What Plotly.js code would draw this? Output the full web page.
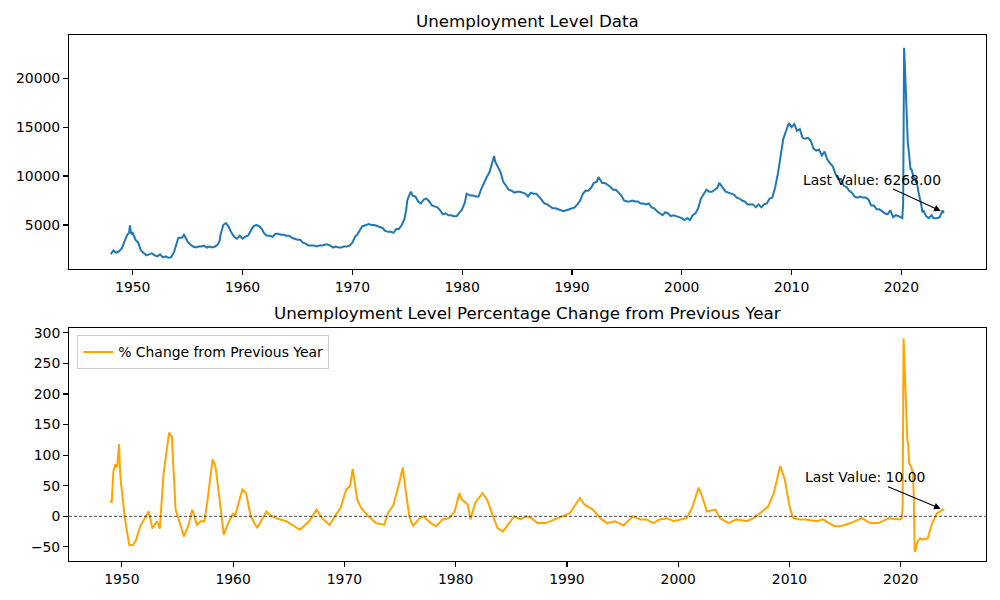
<!DOCTYPE html>
<html>
<head>
<meta charset="utf-8">
<script src="https://cdn.plot.ly/plotly-3.0.1.min.js"></script>
<style>html,body{margin:0;padding:0;background:#fff;}#chart{width:1000px;height:600px;}</style>
</head>
<body>
<div id="chart"></div>
<script>
// Unemployment level (thousands)
const levelDates = [
"1948-01","1948-04","1948-07","1948-10",
"1949-01","1949-04","1949-07","1949-09","1949-10","1949-11","1949-12",
"1950-01","1950-04","1950-07","1950-10",
"1951-01","1951-04","1951-07","1951-10",
"1952-01","1952-04","1952-07","1952-10",
"1953-01","1953-04","1953-07","1953-10","1953-12",
"1954-01","1954-03","1954-07","1954-09","1954-12",
"1955-01","1955-04","1955-07","1955-10",
"1956-01","1956-04","1956-07","1956-10",
"1957-01","1957-04","1957-07","1957-10","1957-12",
"1958-01","1958-04","1958-07","1958-10",
"1959-01","1959-04","1959-07","1959-10",
"1960-01","1960-04","1960-07","1960-10",
"1961-01","1961-04","1961-07","1961-10",
"1962-01","1962-04","1962-07","1962-10",
"1963-01","1963-04","1963-07","1963-10",
"1964-01","1964-04","1964-07","1964-10",
"1965-01","1965-04","1965-07","1965-10",
"1966-01","1966-04","1966-07","1966-10",
"1967-01","1967-04","1967-07","1967-10",
"1968-01","1968-04","1968-07","1968-10",
"1969-01","1969-04","1969-07","1969-10",
"1970-01","1970-04","1970-07","1970-10","1970-12",
"1971-01","1971-04","1971-07","1971-10",
"1972-01","1972-04","1972-07","1972-10",
"1973-01","1973-04","1973-07","1973-10",
"1974-01","1974-04","1974-07","1974-10","1974-12",
"1975-01","1975-04","1975-05","1975-07","1975-10",
"1976-01","1976-04","1976-07","1976-10",
"1977-01","1977-04","1977-07","1977-10",
"1978-01","1978-04","1978-07","1978-10",
"1979-01","1979-04","1979-07","1979-10",
"1980-01","1980-04","1980-06","1980-10",
"1981-01","1981-04","1981-07","1981-10",
"1982-01","1982-04","1982-07","1982-10","1982-12",
"1983-01","1983-04","1983-07","1983-10",
"1984-01","1984-04","1984-07","1984-10",
"1985-01","1985-04","1985-07","1985-10",
"1986-01","1986-04","1986-07","1986-10",
"1987-01","1987-04","1987-07","1987-10",
"1988-01","1988-04","1988-07","1988-10",
"1989-01","1989-04","1989-07","1989-10",
"1990-01","1990-04","1990-07","1990-10",
"1991-01","1991-04","1991-07","1991-10",
"1992-01","1992-04","1992-06","1992-10",
"1993-01","1993-04","1993-07","1993-10",
"1994-01","1994-04","1994-07","1994-10",
"1995-01","1995-04","1995-07","1995-10",
"1996-01","1996-04","1996-07","1996-10",
"1997-01","1997-04","1997-07","1997-10",
"1998-01","1998-04","1998-07","1998-10",
"1999-01","1999-04","1999-07","1999-10",
"2000-01","2000-04","2000-07","2000-10",
"2001-01","2001-04","2001-07","2001-10",
"2002-01","2002-04","2002-07","2002-10",
"2003-01","2003-04","2003-06","2003-10",
"2004-01","2004-04","2004-07","2004-10",
"2005-01","2005-04","2005-07","2005-10",
"2006-01","2006-04","2006-07","2006-10",
"2007-01","2007-04","2007-07","2007-10","2007-12",
"2008-01","2008-04","2008-07","2008-10",
"2009-01","2009-04","2009-07","2009-10",
"2010-01","2010-04","2010-07","2010-10",
"2011-01","2011-04","2011-07","2011-10",
"2012-01","2012-04","2012-07","2012-10",
"2013-01","2013-04","2013-07","2013-10",
"2014-01","2014-04","2014-07","2014-10",
"2015-01","2015-04","2015-07","2015-10",
"2016-01","2016-04","2016-07","2016-10",
"2017-01","2017-04","2017-07","2017-10",
"2018-01","2018-04","2018-07","2018-10",
"2019-01","2019-04","2019-07","2019-10",
"2020-01","2020-02","2020-03","2020-04","2020-05","2020-06","2020-07","2020-08","2020-09","2020-10","2020-11","2020-12",
"2021-01","2021-02","2021-03","2021-04","2021-05","2021-06","2021-07","2021-08","2021-09","2021-10","2021-11","2021-12",
"2022-01","2022-04","2022-07","2022-10","2022-12",
"2023-01","2023-04","2023-07","2023-10","2023-11","2023-12"
];
const levelValues = [
2034,2400,2170,2300,
2600,3300,4000,4200,4974,4200,4100,
4200,3500,3200,2400,
2150,1900,2000,2100,
1900,1800,2000,1700,
1800,1650,1700,2200,2800,
3100,3700,3700,4000,3500,
3300,3000,2800,2700,
2800,2800,2900,2700,
2800,2700,2800,3000,3400,
4000,5000,5200,4800,
4200,3800,3600,3900,
3600,3800,3900,4400,
4900,5000,4900,4600,
4100,3900,3900,3800,
4100,4100,4000,4000,
3900,3900,3700,3600,
3500,3500,3200,3100,
2900,2900,2900,2800,
2900,2900,3000,3000,
2900,2700,2800,2700,
2700,2800,2800,2900,
3200,3800,4100,4600,4900,
4900,5000,5100,5000,
5000,4900,4800,4700,
4400,4300,4300,4200,
4600,4600,5000,5600,6600,
7500,8200,8400,8000,7900,
7400,7200,7600,7700,
7400,7000,6900,6800,
6500,6100,6200,6000,
6000,5900,5900,6200,
6600,7300,8200,8000,
8000,7900,7900,8700,
9400,9900,10400,11300,12050,
11500,11000,10400,9400,
9000,8600,8500,8300,
8400,8400,8300,8200,
7900,8300,8200,8200,
7900,7600,7200,7100,
6900,6700,6700,6600,
6500,6400,6500,6600,
6700,6800,7100,7500,
8200,8500,8500,8800,
9300,9400,9900,9300,
9300,9100,8900,8600,
8600,8300,8000,7500,
7400,7400,7500,7400,
7400,7200,7200,7100,
7200,6800,6700,6400,
6200,6000,6300,6200,
5900,6000,5900,5800,
5700,5500,5700,5500,
6000,6200,6700,7700,
8200,8600,8400,8400,
8600,8800,9300,8800,
8400,8300,8200,8100,
7800,7700,7500,7400,
7100,7100,7100,6800,
7100,6800,7100,7200,7600,
7700,7800,8800,10200,
12000,13800,14600,15400,
15000,15300,14600,14800,
13900,13800,13900,13600,
12800,12600,12700,12100,
12500,11700,11300,11000,
10200,9700,9700,9000,
8900,8500,8300,7900,
7800,7900,7800,7800,
7600,7000,7000,6600,
6600,6400,6200,6100,
6500,5800,6000,5900,
5800,5700,7200,23100,20900,17700,16300,13500,12600,11100,10700,10700,
10200,10000,9700,9800,9300,9500,8700,8300,7700,7400,6900,6300,
6500,5900,5700,6000,5700,
5700,5700,5800,6500,6300,6268
];

// % change from previous year
const pctDates = [
"1949-01","1949-02","1949-04","1949-06","1949-08","1949-10","1949-11","1949-12",
"1950-02","1950-04","1950-09","1951-01","1951-04","1951-09","1952-01","1952-06","1952-10",
"1953-03","1953-06","1953-10","1954-04","1954-07","1954-11","1955-08",
"1956-01","1956-05","1956-10","1957-02","1957-06","1957-09","1958-03","1958-06","1958-10",
"1959-03","1959-07","1960-01","1960-03","1960-11","1961-03","1961-08","1962-03",
"1963-01","1963-04","1963-11","1964-10","1966-01","1966-11","1967-07","1968-01","1968-09",
"1969-04","1969-09","1970-03","1970-07","1970-10","1971-03","1971-07","1972-03","1972-11",
"1973-08","1973-12","1974-06","1975-01","1975-04","1975-07","1975-11",
"1976-03","1976-10","1977-02","1977-10","1978-04","1978-11","1979-06","1979-12",
"1980-05","1980-08","1981-02","1981-05","1981-10","1982-06","1982-11",
"1983-05","1983-10","1984-04","1984-11","1985-04","1985-11","1986-05","1986-11",
"1987-05","1988-02","1989-01","1989-08","1990-04","1990-09","1991-03","1991-08",
"1992-05","1993-01","1993-08","1994-05","1995-02","1995-12","1996-08","1997-03","1997-10",
"1998-05","1999-01","1999-08","2000-03","2000-10","2001-04","2001-11","2002-02","2002-08",
"2003-05","2003-10","2004-07","2005-04","2006-03","2006-10","2007-05","2008-02","2008-08",
"2009-03","2009-08","2010-01","2010-05","2010-12","2011-07","2012-06","2013-01","2014-01",
"2014-08","2015-07","2016-07","2017-04","2018-01","2018-12","2019-12",
"2020-02","2020-03","2020-04","2020-05","2020-06","2020-07","2020-08","2020-09","2020-10","2020-11","2020-12",
"2021-01","2021-02","2021-03","2021-04","2021-05","2021-06","2021-08","2021-10","2021-12",
"2022-03","2022-06","2022-11","2023-04","2023-08","2023-10","2023-12"
];
const pctValues = [
27,22,74,85,80,118,77,55,
30,0,-47,-47,-40,-16,-5,8,-20,
-8,-20,69,137,130,11,-33,
-14,11,-14,-8,-8,22,93,82,33,
-30,-14,5,0,44,38,0,-19,
8,3,-3,-8,-22,-8,11,-3,-14,
3,14,44,49,77,27,14,0,-11,
-14,5,19,60,80,44,0,
-16,-3,0,-11,-16,-5,-3,8,
38,27,19,-5,22,38,27,
3,-19,-25,-11,0,-5,0,-3,
-11,-11,-5,0,5,16,30,19,
11,-3,-11,-8,-15,0,-5,-5,-11,
-5,-3,-8,-5,-3,14,47,36,8,
11,-3,-11,-5,-8,-3,5,16,38,
82,60,16,-3,-5,-5,-8,-5,-16,
-16,-11,-3,-11,-11,-3,-5,
-3,15,291,254,200,165,126,117,88,84,82,
75,75,35,-58,-55,-46,-39,-36,-38,
-37,-36,-11,5,8,11,10
];

const lastLevel = levelValues[levelValues.length - 1];
const lastPct = pctValues[pctValues.length - 1];
const lastLevelDate = levelDates[levelDates.length - 1];
const lastPctDate = pctDates[pctDates.length - 1];

const FONT = "DejaVu Sans, Liberation Sans, sans-serif";

const traces = [
  {x: levelDates, y: levelValues, type: "scatter", mode: "lines",
   line: {color: "#1f77b4", width: 2}, xaxis: "x", yaxis: "y", showlegend: false, name: "Unemployment Level"},
  {x: pctDates, y: pctValues, type: "scatter", mode: "lines",
   line: {color: "#FFA500", width: 2}, xaxis: "x2", yaxis: "y2", showlegend: true, name: "% Change from Previous Year"}
];

const axisCommon = {
  showline: true, linecolor: "#000", linewidth: 1.1, mirror: true,
  showgrid: false, zeroline: false, ticks: "outside", ticklen: 4.9, tickwidth: 1.1, tickcolor: "#000",
  tickfont: {family: FONT, size: 13.9, color: "#000"}
};

const layout = {
  width: 1000, height: 600,
  paper_bgcolor: "#fff", plot_bgcolor: "#fff",
  margin: {l: 69, r: 14, t: 35, b: 39},
  font: {family: FONT, color: "#000"},
  xaxis: Object.assign({}, axisCommon, {type: "date", domain: [0, 1], anchor: "y",
    range: ["1944-03-14", "2027-09-16"], tick0: "1950-01-01", dtick: "M120", tickformat: "%Y"}),
  yaxis: Object.assign({}, axisCommon, {domain: [0.555, 1], anchor: "x",
    range: [500, 24400], tickvals: [5000, 10000, 15000, 20000], tickformat: "d"}),
  xaxis2: Object.assign({}, axisCommon, {type: "date", domain: [0, 1], anchor: "y2",
    range: ["1945-04-03", "2027-08-29"], tick0: "1950-01-01", dtick: "M120", tickformat: "%Y"}),
  yaxis2: Object.assign({}, axisCommon, {domain: [0, 0.443], anchor: "x2",
    range: [-73, 308], dtick: 50, tick0: 0}),
  legend: {x: 0.009, y: 0.429, xanchor: "left", yanchor: "top", xref: "paper", yref: "paper",
    bgcolor: "rgba(255,255,255,0.8)", bordercolor: "#cccccc", borderwidth: 1,
    font: {family: FONT, size: 13.9, color: "#000"}},
  shapes: [
    {type: "line", xref: "x2 domain", x0: 0, x1: 1, yref: "y2", y0: 0, y1: 0,
     line: {color: "#000", width: 0.7, dash: "3px,2px"}}
  ],
  annotations: [
    {text: "Unemployment Level Data", xref: "paper", yref: "paper", x: 0.5, y: 1.0266,
     xanchor: "center", yanchor: "middle", showarrow: false, font: {family: FONT, size: 16.7, color: "#000"}},
    {text: "Unemployment Level Percentage Change from Previous Year", xref: "paper", yref: "paper", x: 0.5, y: 0.4715,
     xanchor: "center", yanchor: "middle", showarrow: false, font: {family: FONT, size: 16.7, color: "#000"}},
    {text: "Last Value: " + lastLevel.toFixed(2), xref: "x", yref: "y", x: lastLevelDate, y: lastLevel,
     ax: -72, ay: -33, showarrow: true, arrowhead: 2, arrowsize: 1.2, arrowwidth: 1.1, arrowcolor: "#000", standoff: 4,
     font: {family: FONT, size: 13.9, color: "#000"}},
    {text: "Last Value: " + lastPct.toFixed(2), xref: "x2", yref: "y2", x: lastPctDate, y: lastPct,
     ax: -79, ay: -33, showarrow: true, arrowhead: 2, arrowsize: 1.2, arrowwidth: 1.1, arrowcolor: "#000", standoff: 4,
     font: {family: FONT, size: 13.9, color: "#000"}}
  ]
};

Plotly.newPlot("chart", traces, layout, {staticPlot: true, displayModeBar: false});
</script>
</body>
</html>
